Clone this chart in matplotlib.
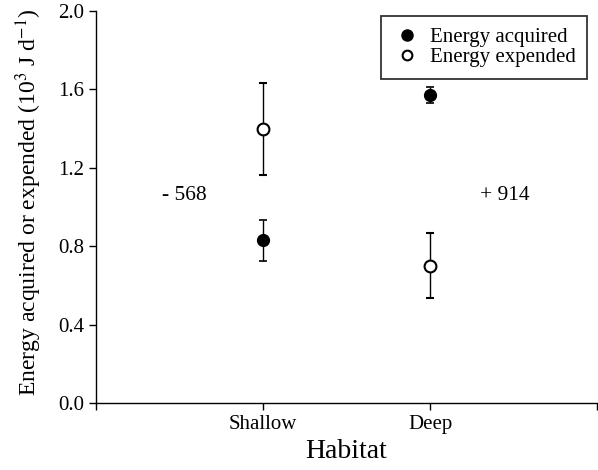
import numpy as np
import matplotlib
matplotlib.use("Agg")
import matplotlib.pyplot as plt
from matplotlib.lines import Line2D

# Data (10^3 J per day)
habitats = ["Shallow", "Deep"]
acquired = [0.83, 1.57]
acquired_err = [0.105, 0.04]
expended = [1.40, 0.70]
expended_err = [0.235, 0.165]
net_labels = ["- 568", "+ 914"]
net_x = [0.53, 2.45]
net_y = [1.06, 1.06]

plt.rcParams["font.family"] = ["Liberation Serif", "DejaVu Serif"]
plt.rcParams["mathtext.fontset"] = "stix"

fig = plt.figure(figsize=(5.98, 4.70), dpi=100)
ax = fig.add_axes([0.1605, 0.1426, 0.838, 0.834])

x = np.arange(1, len(habitats) + 1)

ax.errorbar(x, acquired, yerr=acquired_err, fmt="o", color="black",
            markerfacecolor="black", markeredgecolor="black", markersize=8.5,
            elinewidth=1.0, capsize=3, capthick=1.2)
ax.errorbar(x, expended, yerr=expended_err, fmt="o", color="black",
            markerfacecolor="white", markeredgecolor="black", markersize=8.5,
            markeredgewidth=1.5, elinewidth=1.0, capsize=3, capthick=1.2)

for lx, ly, txt in zip(net_x, net_y, net_labels):
    ax.text(lx, ly, txt, ha="center", va="center", fontsize=15.5)

ax.set_xlim(0, 3)
ax.set_ylim(0, 2.0)
ax.set_xticks([0, 1, 2, 3])
ax.set_xticklabels(["", "Shallow", "Deep", ""])
ax.set_yticks([0.0, 0.4, 0.8, 1.2, 1.6, 2.0])
ax.set_yticklabels(["0.0", "0.4", "0.8", "1.2", "1.6", "2.0"])
ax.tick_params(axis="both", direction="out", length=5, width=1, labelsize=15)

for side in ["top", "right"]:
    ax.spines[side].set_visible(False)
for side in ["left", "bottom"]:
    ax.spines[side].set_linewidth(1.0)

ax.set_xlabel("Habitat", fontsize=20, labelpad=4)
ax.set_ylabel("Energy acquired or expended (10$^{3}$ J d$^{-1}$)", fontsize=17)
ax.yaxis.set_label_coords(-0.104, 0.512)

handles = [
    Line2D([], [], linestyle="none", marker="o", markersize=8,
           markerfacecolor="black", markeredgecolor="black"),
    Line2D([], [], linestyle="none", marker="o", markersize=7,
           markerfacecolor="white", markeredgecolor="black", markeredgewidth=1.5),
]
leg = ax.legend(handles, ["Energy acquired", "Energy expended"],
                loc="upper right", bbox_to_anchor=(0.99, 1.0), frameon=True,
                fancybox=False, edgecolor="black", fontsize=15,
                handletextpad=0.4, borderpad=0.55, labelspacing=0.02,
                handlelength=1.4, borderaxespad=0.25)
leg.get_frame().set_linewidth(1.3)

fig.savefig("out.png", dpi=100)
